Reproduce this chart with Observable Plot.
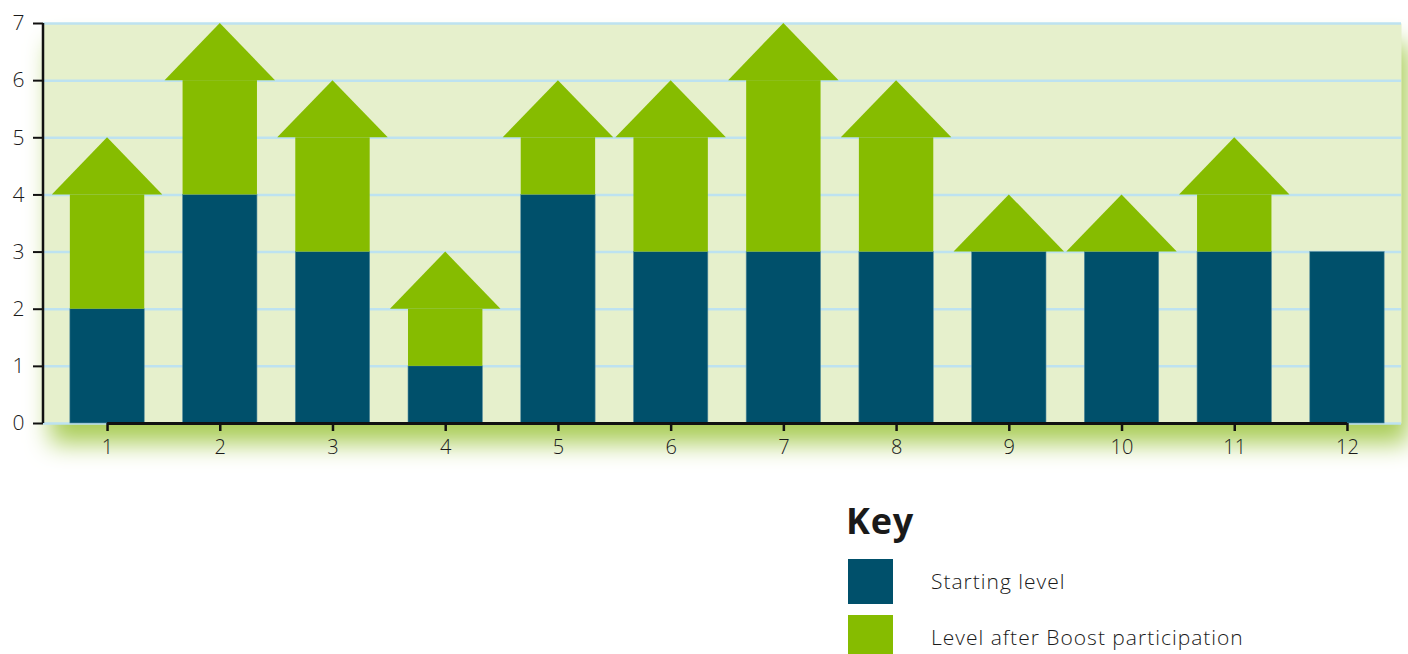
<!DOCTYPE html>
<html>
<head>
<meta charset="utf-8">
<script src="https://cdn.jsdelivr.net/npm/d3@7"></script>
<script src="https://cdn.jsdelivr.net/npm/@observablehq/plot@0.6"></script>
<style>
  html, body { margin: 0; padding: 0; background: #fff; width: 1408px; height: 654px; overflow: hidden; }
  body { font-family: "Open Sans", "Noto Sans", sans-serif; color: #1a1a1a; }
  #chart svg { display: block; overflow: visible; }
  #key { position: absolute; left: 846px; top: 503px; }
  #key h2 { margin: 0; font-size: 36px; font-weight: 700; line-height: 1; letter-spacing: 0.8px; }
  .item { position: absolute; left: 2px; width: 520px; height: 45px; }
  .sw { position: absolute; left: 0; top: 0; width: 45px; height: 45px; }
  .lbl { position: absolute; left: 83px; top: 0; line-height: 45px; font-size: 21px; font-weight: 300; letter-spacing: 1px; white-space: nowrap; }
</style>
</head>
<body>
<div id="chart"></div>
<div id="key">
  <h2>Key</h2>
</div>
<script>
const participants = [1, 2, 3, 4, 5, 6, 7, 8, 9, 10, 11, 12];
const startingLevel = [2, 4, 3, 1, 4, 3, 3, 3, 3, 3, 3, 3];
const levelAfter = [5, 7, 6, 3, 6, 6, 7, 6, 4, 4, 5, 3];
const yTicks = [0, 1, 2, 3, 4, 5, 6, 7];
const seriesNames = ["Starting level", "Level after Boost participation"];
const colors = ["#00506b", "#86bc00"];

const shaftHalf = 0.33;
const headHalf = 0.49;

const rows = participants.map((p, i) => ({p, start: startingLevel[i], after: levelAfter[i]}));
const arrows = rows.filter(d => d.after > d.start);
const heads = arrows.flatMap(d => [
  {id: d.p, x: d.p - headHalf, y1: d.after - 1, y2: d.after - 1},
  {id: d.p, x: d.p, y1: d.after - 1, y2: d.after},
  {id: d.p, x: d.p + headHalf, y1: d.after - 1, y2: d.after - 1}
]);

const W = 1408, H = 470;
const plot = Plot.plot({
  width: W,
  height: H,
  marginLeft: 43,
  marginRight: 7,
  marginTop: 23,
  marginBottom: 47,
  style: {fontFamily: "'Open Sans', sans-serif", color: "#1a1a1a", background: "transparent"},
  x: {type: "linear", domain: [0.4318, 12.4794], axis: null, label: null},
  y: {domain: [0, 7], axis: null, label: null},
  marks: [
    Plot.frame({fill: "#e6f0cc", stroke: null}),
    Plot.ruleY(yTicks, {stroke: "#bde2f0", strokeWidth: 2.5}),
    Plot.rectY(rows, {x1: d => d.p - shaftHalf, x2: d => d.p + shaftHalf, y1: 0, y2: "start", fill: colors[0], stroke: "#5a8fa0", strokeWidth: 0.6}),
    Plot.rectY(arrows.filter(d => d.after - 1 > d.start), {x1: d => d.p - shaftHalf, x2: d => d.p + shaftHalf, y1: "start", y2: d => d.after - 1, fill: colors[1]}),
    Plot.areaY(heads, {x: "x", y1: "y1", y2: "y2", z: "id", fill: colors[1], curve: "linear"}),
    Plot.axisY({ticks: yTicks, tickFormat: d => String(d), label: null, tickSize: 10, tickPadding: 9, fontSize: 21, fontWeight: 300, stroke: "#111", strokeWidth: 2}),
    Plot.ruleX([0.4318], {y1: 0, y2: 7, stroke: "#111", strokeWidth: 2.5, dx: -0.5}),
    Plot.ruleY([0], {x1: 1, x2: 12, stroke: "#111", strokeWidth: 3}),
    Plot.axisX({ticks: participants, tickFormat: d => String(d), label: null, tickSize: 8, tickPadding: 8, fontSize: 20, fontWeight: 300, stroke: "#111", strokeWidth: 2.5})
  ]
});
document.getElementById("chart").appendChild(plot);
// soft green shadow under the plot background
const bg = plot.querySelector("g[aria-label='frame'] rect, rect[aria-label='frame']") || plot.querySelector("rect");
if (bg) bg.style.filter = "drop-shadow(7px 20px 12px #aacd58)";

const key = document.getElementById("key");
seriesNames.forEach((name, i) => {
  const it = document.createElement("div");
  it.className = "item";
  it.style.top = (56 + i * 56) + "px";
  it.innerHTML = `<div class="sw" style="background:${colors[i]}"></div><div class="lbl">${name}</div>`;
  key.appendChild(it);
});
</script>
</body>
</html>
